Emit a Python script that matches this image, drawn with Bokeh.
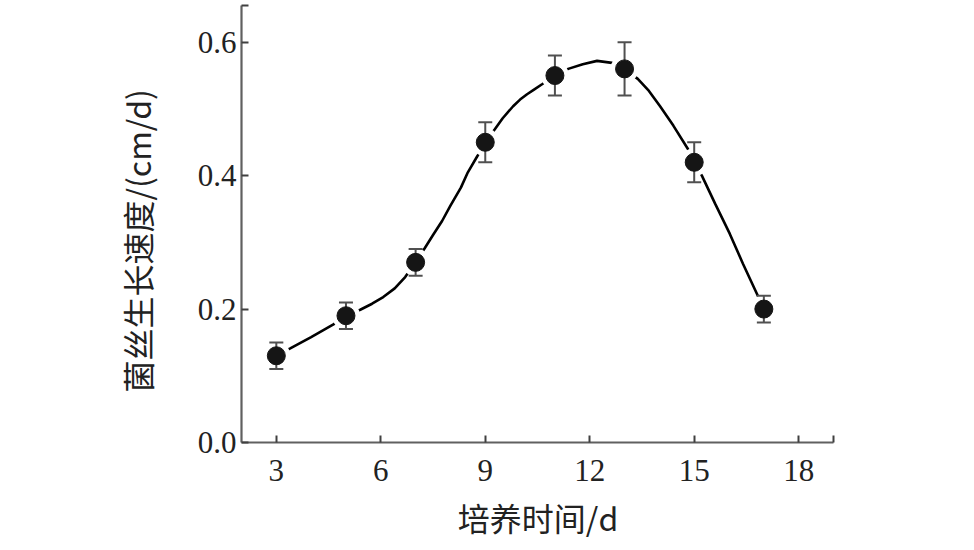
from bokeh.plotting import figure
from bokeh.models import FixedTicker, ColumnDataSource, Title
from bokeh.embed import file_html
from bokeh.resources import INLINE

# measured data
days = [3, 5, 7, 9, 11, 13, 15, 17]
speed = [0.13, 0.19, 0.27, 0.45, 0.55, 0.56, 0.42, 0.20]
err = [0.02, 0.02, 0.02, 0.03, 0.03, 0.04, 0.03, 0.02]

# smooth fitted curve
curve_x = [3.0, 3.40, 4.0, 4.64, 5.0, 5.41, 5.75, 6.07, 6.40, 6.70, 7.0, 7.27, 7.50, 7.76,
           8.0, 8.3, 8.5, 8.77, 9.0, 9.28, 9.5, 9.80, 10.0, 10.2, 10.4, 10.63, 11.0, 11.38,
           11.8, 12.21, 12.64, 13.0, 13.38, 13.7, 14.02, 14.4, 14.82, 15.0, 15.22, 15.6,
           16.02, 16.4, 16.80, 17.0]
curve_y = [0.13, 0.141, 0.158, 0.177, 0.19, 0.199, 0.208, 0.218, 0.231, 0.248, 0.27, 0.292,
           0.311, 0.332, 0.355, 0.382, 0.405, 0.429, 0.45, 0.470, 0.486, 0.504, 0.514, 0.522,
           0.529, 0.537, 0.55, 0.560, 0.567, 0.572, 0.569, 0.56, 0.545, 0.527, 0.504, 0.475,
           0.440, 0.42, 0.400, 0.358, 0.313, 0.268, 0.223, 0.20]

x_ticks = [3, 6, 9, 12, 15, 18, 19]
y_ticks = [0.0, 0.2, 0.4, 0.6, 0.655]
x_title = "培养时间/d"
y_title = "菌丝生长速度/(cm/d)"

upper = [s + e for s, e in zip(speed, err)]
lower = [s - e for s, e in zip(speed, err)]
src = ColumnDataSource(dict(x=days, y=speed, up=upper, lo=lower))

p = figure(width=958, height=550, x_range=(2, 19), y_range=(0, 0.655),
           output_backend="svg", toolbar_location=None,
           min_border_left=241, min_border_right=125, min_border_top=5, min_border_bottom=108)
p.outline_line_color = None
p.grid.visible = False
p.background_fill_color = "white"
p.border_fill_color = "white"

p.line(curve_x, curve_y, line_color="black", line_width=2.6)
p.scatter("x", "y", source=src, size=28, fill_color="white", line_color=None)
p.segment(x0="x", y0="lo", x1="x", y1="up", source=src, line_color="#505050", line_width=2)
p.scatter("x", "up", source=src, marker="dash", size=14, line_color="#505050", line_width=2)
p.scatter("x", "lo", source=src, marker="dash", size=14, line_color="#505050", line_width=2)
p.scatter("x", "y", source=src, size=18, fill_color="#151515", line_color="#151515")

for ax in (p.xaxis[0], p.yaxis[0]):
    ax.axis_line_color = "#606060"
    ax.axis_line_width = 2.2
    ax.major_tick_in = 7
    ax.major_tick_out = 0
    ax.major_tick_line_color = "#404040"
    ax.major_tick_line_width = 2
    ax.minor_tick_line_color = None
    ax.major_label_text_font = "Liberation Serif"
    ax.major_label_text_font_size = "31px"
    ax.major_label_text_color = "#222222"

p.xaxis.ticker = FixedTicker(ticks=x_ticks)
p.xaxis.major_label_overrides = {19: ""}
p.yaxis.ticker = FixedTicker(ticks=y_ticks)
p.yaxis.major_label_overrides = {0: "0.0", 0.2: "0.2", 0.4: "0.4", 0.6: "0.6", 0.655: ""}
p.xaxis.major_label_standoff = 17
p.yaxis.major_label_standoff = 5

# axis titles
p.add_layout(Title(text=x_title, align="center", text_font="Noto Sans CJK SC",
                   text_font_size="32px", text_font_style="normal", text_color="#222222",
                   standoff=17), "below")
p.add_layout(Title(text=y_title, align="left", text_font="Noto Sans CJK SC",
                   text_font_size="32px", text_font_style="normal", text_color="#222222",
                   standoff=70, offset=50), "left")

open("out.html", "w").write(file_html(p, INLINE))
